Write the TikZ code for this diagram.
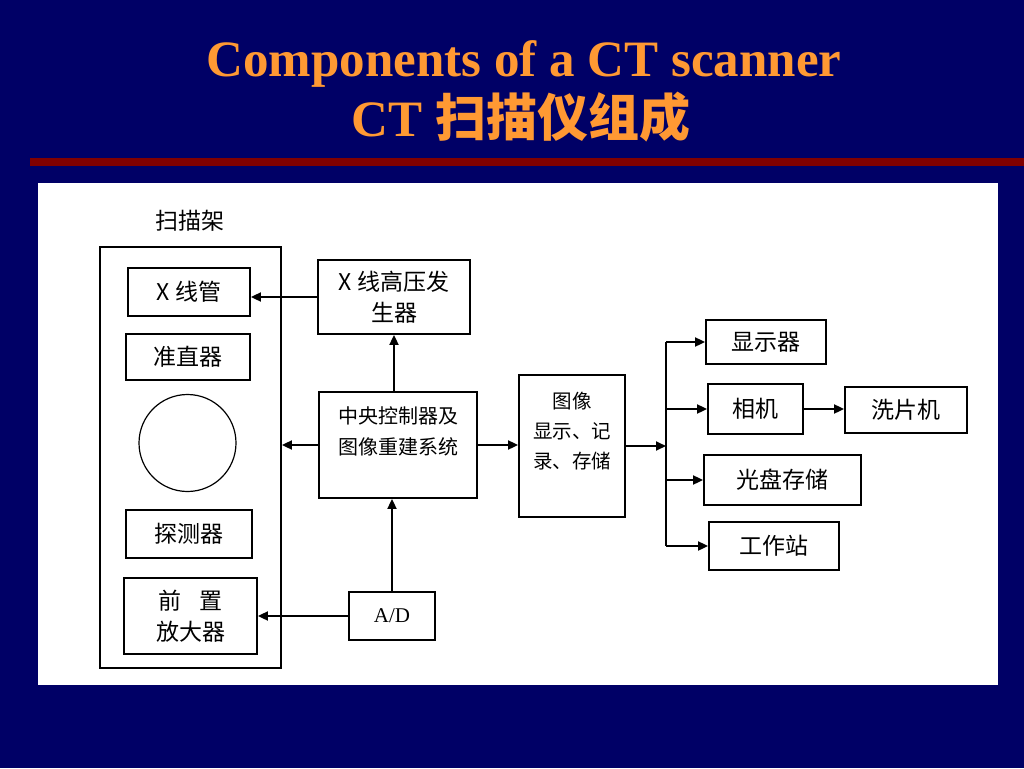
\documentclass[tikz,border=0pt]{standalone}
\usepackage{fontspec}
\setmainfont{Liberation Serif}
\newfontfamily\cjk{Noto Sans CJK SC}
\usepackage{xcolor}
\definecolor{ctnavy}{RGB}{0,0,102}
\definecolor{ctorange}{RGB}{255,153,51}
\definecolor{ctred}{RGB}{128,0,0}
\usepackage{tikz}
\usetikzlibrary{arrows.meta}

\begin{document}
\begin{tikzpicture}[x=1pt,y=-1pt,
  blk/.style={draw,line width=1.8pt,inner sep=0pt,align=center,font=\cjk\fontsize{23}{31}\selectfont},
  lbl/.style={inner sep=0pt,align=center,font=\cjk\fontsize{20}{31}\selectfont},
  arr/.style={line width=1.8pt,-{Triangle[length=10pt,width=9pt]}}]
% ---- tlo slajdu ----
\fill[ctnavy] (0,0) rectangle (1024,768);
\fill[ctred] (30,158) rectangle (1024,166);
\fill[white] (38,183) rectangle (998,685);
\node[anchor=base,text=ctorange,font=\fontsize{51}{60}\selectfont\bfseries] (title) at (524,76) {Components of a CT scanner};
\node[anchor=base,text=ctorange,font=\fontsize{51}{60}\selectfont\bfseries] (subtitle) at (521,136) {CT {\cjk\bfseries 扫描仪组成}};
% ---- scanning gantry ----
\node[blk,minimum width=181,minimum height=421] (gantry) at (190.5,457.5) {};
\node[lbl,font=\cjk\fontsize{23}{31}\selectfont] (gantrylbl) at (190,221) {扫描架};
\node[blk,minimum width=122,minimum height=48] (tube) at (189,292) {X 线管};
\node[blk,minimum width=124,minimum height=46] (coll) at (188,357) {准直器};
\node[draw,circle,line width=1.2pt,minimum size=97] (ring) at (187.5,443) {};
\node[blk,minimum width=126,minimum height=48] (det) at (189,534) {探测器};
\node[blk,minimum width=133,minimum height=76] (preamp) at (190.5,616) {前\hspace{0.8em}置\\放大器};
% ---- control chain ----
\node[blk,minimum width=152,minimum height=74] (hv) at (394,297) {X 线高压发\\生器};
\node[blk,minimum width=158,minimum height=106] (ctrl) at (398,445) {};
\node[lbl] (ctrltxt) at (398,431) {中央控制器及\\图像重建系统};
\node[blk,minimum width=86,minimum height=48,font=\fontsize{21}{24}\selectfont] (ad) at (392,616) {A/D};
\node[blk,minimum width=106,minimum height=142] (disp) at (572,446) {};
\node[lbl,font=\cjk\fontsize{19.5}{30}\selectfont] (disptxt) at (572,431) {图像\\显示、记\\录、存储};
% ---- outputs ----
\node[blk,minimum width=120,minimum height=44] (mon) at (766,342) {显示器};
\node[blk,minimum width=95,minimum height=50] (cam) at (755.5,409) {相机};
\node[blk,minimum width=122,minimum height=46] (proc) at (906,410) {洗片机};
\node[blk,minimum width=157,minimum height=50] (odd) at (782.5,480) {光盘存储};
\node[blk,minimum width=130,minimum height=48] (ws) at (774,546) {工作站};
\coordinate (bustop) at (666,342);
\coordinate (busbot) at (666,546);
% ---- connectors ----
\draw[arr] (hv.west) -- (hv.west -| tube.east);
\draw[arr] (hv.south |- ctrl.north) -- (hv.south);
\draw[arr] (ctrl.west) -- (ctrl.west -| gantry.east);
\draw[arr] (ad.north) -- (ad.north |- ctrl.south);
\draw[arr] (ad.west) -- (ad.west -| preamp.east);
\draw[arr] (ctrl.east) -- (ctrl.east -| disp.west);
\draw[arr] (disp.east) -- (disp.east -| bustop);
\draw[line width=1.8pt] (bustop) -- (busbot);
\foreach \n in {mon,cam,odd,ws}{
  \draw[arr] (bustop |- \n.west) -- (\n.west);}
\draw[arr] (cam.east) -- (cam.east -| proc.west);
\end{tikzpicture}
\end{document}
